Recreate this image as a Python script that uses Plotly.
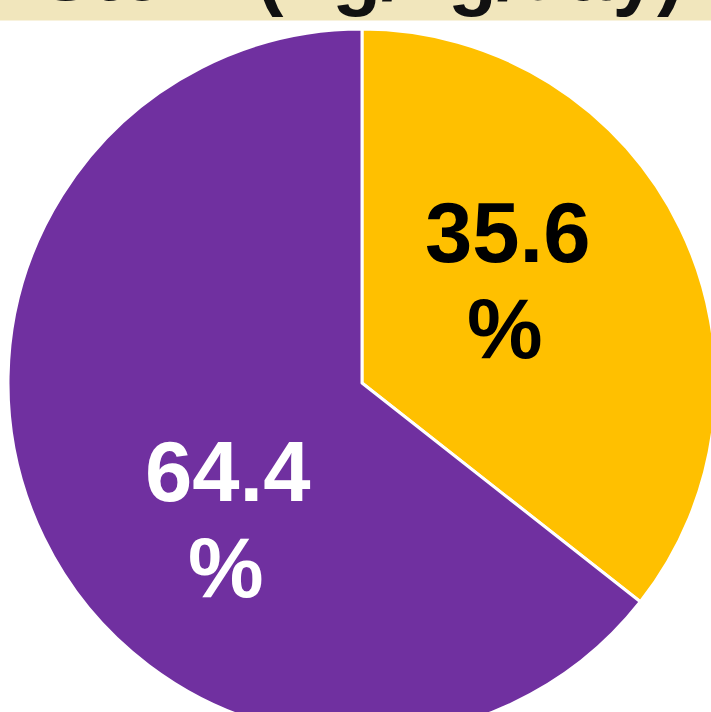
import plotly.graph_objects as go

# Share of daily intake by plant part
labels = ["Leaf", "Stem"]
shares = [35.6, 64.4]
slice_colors = ["#FFC000", "#7030A0"]
text_colors = ["#000000", "#FFFFFF"]
title_text = "Stem (ng/kg/day)"

# Label placement inside each slice (pixel centres: number line, percent line)
label_xy = [((507, 232), (505, 328)), ((227, 471), (226, 567))]

W, H = 724, 740
M_L, M_R, M_T, M_B = 8, 8, 29, 3
plot_w = W - M_L - M_R
plot_h = H - M_T - M_B


def paper_x(px):
    return (px - M_L) / plot_w


def paper_y(px_from_top):
    return (H - M_B - px_from_top) / plot_h


fig = go.Figure(
    go.Pie(
        labels=labels,
        values=shares,
        sort=False,
        direction="clockwise",
        rotation=0,
        marker=dict(colors=slice_colors, line=dict(color="white", width=3)),
        textinfo="none",
        hoverinfo="label+percent",
        showlegend=False,
    )
)

label_font = dict(family="Arial, Liberation Sans", size=85, weight="bold")
for value, color, (num_xy, pct_xy) in zip(shares, text_colors, label_xy):
    fig.add_annotation(
        text=f"{value:.1f}", xref="paper", yref="paper",
        x=paper_x(num_xy[0]), y=paper_y(num_xy[1]),
        xanchor="center", yanchor="middle", showarrow=False,
        font=dict(label_font, color=color),
    )
    fig.add_annotation(
        text="%", xref="paper", yref="paper",
        x=paper_x(pct_xy[0]), y=paper_y(pct_xy[1]),
        xanchor="center", yanchor="middle", showarrow=False,
        font=dict(label_font, color=color),
    )

# Title band across the top edge
fig.add_shape(
    type="rect", xref="paper", yref="paper",
    x0=-0.1, x1=1.1, y0=paper_y(20.5), y1=paper_y(-40),
    fillcolor="#F1E6BC", line=dict(width=0), layer="below",
)
fig.add_annotation(
    text=title_text, xref="paper", yref="paper",
    x=paper_x(686), xanchor="right",
    y=paper_y(19), yanchor="bottom", showarrow=False,
    font=dict(family="Arial, Liberation Sans", size=80, color="#111111", weight="bold"),
)

fig.update_layout(
    width=W, height=H,
    margin=dict(l=M_L, r=M_R, t=M_T, b=M_B, autoexpand=False),
    paper_bgcolor="white",
)

fig.write_html(
    "out.html",
    post_script="document.documentElement.style.overflow='hidden';"
                "document.body.style.overflow='hidden';document.body.style.margin='0';",
)
